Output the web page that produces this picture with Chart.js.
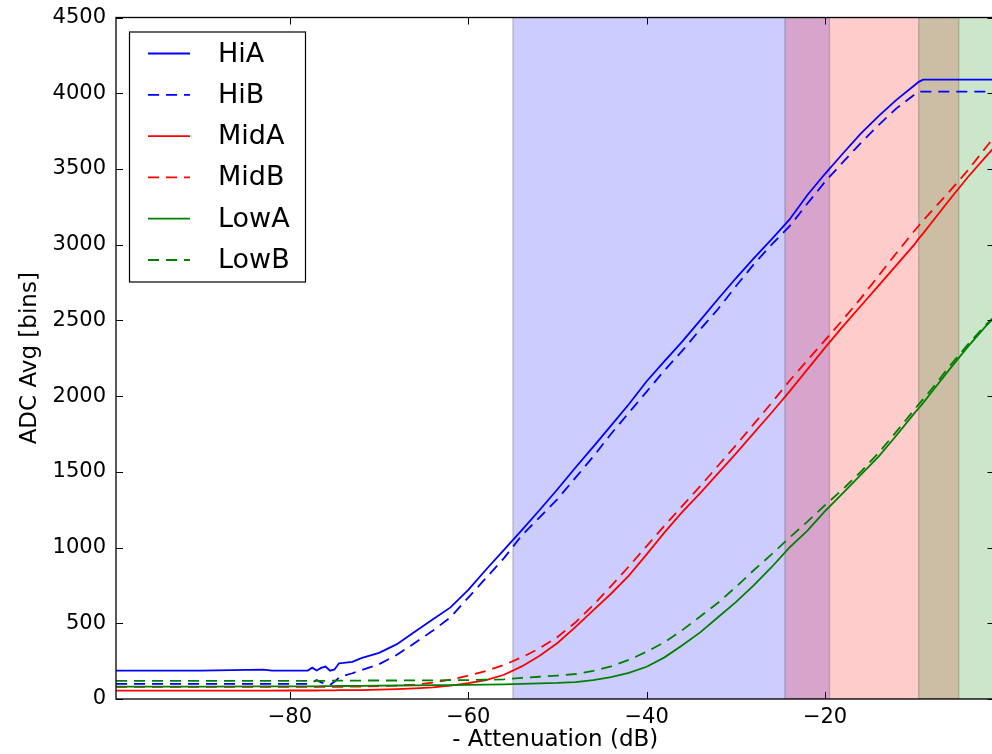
<!DOCTYPE html>
<html>
<head>
<meta charset="utf-8">
<script src="https://cdn.jsdelivr.net/npm/chart.js@4/dist/chart.umd.min.js"></script>
<style>
  html, body { margin: 0; padding: 0; background: #fff; overflow: hidden; }
  #wrap { width: 1000px; height: 754px; position: relative; }
</style>
</head>
<body>
<div id="wrap"><canvas id="adcChart"></canvas></div>
<script>
// Attenuation sweep (dB) and ADC averages per channel
const attenuation = [-99.5, -90, -83, -82, -80, -78, -77.5, -77, -76.5, -76, -75.5, -75, -74.5, -74, -73, -72,
  -70, -68, -66, -64, -62, -60, -58, -56, -54, -52, -50, -48, -46, -44, -42, -40, -38, -36, -34, -32, -30,
  -28, -26, -24, -22, -20, -18, -16, -14, -12, -10, -9.5, -9, -8, -6, -4, -2, -1];

const hiA = [187, 187, 194, 187, 187, 188, 207, 188, 205, 214, 187, 195, 236, 238, 245, 270,
  305, 362, 444, 525, 605, 720, 855, 985, 1115, 1248, 1385, 1527, 1665, 1805, 1946, 2098, 2231, 2362, 2500, 2641, 2778,
  2909, 3035, 3165, 3326, 3468, 3602, 3733, 3849, 3956, 4051, 4075, 4090, 4090, 4090, 4090, 4090, 4090];
const hiB = [100, 100, 100, 100, 100, 100, 108, 125, 110, 98, 92, 115, 140, 153, 170, 190,
  230, 292, 370, 450, 540, 670, 800, 930, 1080, 1200, 1320, 1460, 1600, 1750, 1890, 2030, 2170, 2300, 2440, 2575, 2725,
  2870, 3000, 3120, 3270, 3415, 3545, 3670, 3790, 3900, 3990, 4010, 4010, 4010, 4010, 4010, 4010, 4010];
const midA = [55, 55, 55, 55, 56, 56, 56, 56, 57, 57, 57, 57, 58, 58, 58, 59,
  62, 65, 70, 77, 88, 105, 125, 160, 215, 285, 370, 475, 585, 695, 815, 955, 1100, 1235, 1360, 1490, 1620,
  1755, 1890, 2030, 2175, 2320, 2460, 2595, 2730, 2865, 3000, 3040, 3075, 3150, 3300, 3445, 3580, 3645];
const midB = [80, 80, 80, 80, 80, 80, 80, 80, 80, 80, 81, 81, 81, 81, 82, 82,
  85, 88, 95, 108, 128, 155, 185, 225, 275, 335, 410, 505, 620, 745, 875, 1010, 1145, 1275, 1405, 1540, 1675,
  1815, 1955, 2100, 2235, 2370, 2505, 2645, 2795, 2945, 3090, 3125, 3160, 3225, 3355, 3490, 3640, 3712];
const lowA = [82, 82, 83, 83, 84, 84, 84, 84, 85, 85, 85, 85, 86, 86, 86, 87,
  88, 89, 90, 91, 92, 93, 95, 97, 100, 103, 106, 112, 125, 145, 172, 213, 275, 355, 440, 540, 640,
  750, 870, 1000, 1110, 1240, 1360, 1480, 1600, 1740, 1886, 1920, 1955, 2030, 2180, 2325, 2460, 2520];
const lowB = [120, 120, 120, 120, 120, 120, 120, 120, 120, 120, 121, 121, 121, 121, 121, 122,
  122, 122, 123, 123, 124, 125, 127, 130, 140, 147, 155, 165, 185, 215, 258, 312, 375, 455, 545, 635, 740,
  850, 955, 1065, 1170, 1280, 1385, 1500, 1625, 1765, 1910, 1945, 1980, 2050, 2200, 2340, 2470, 2525];

const seriesNames = ['HiA', 'HiB', 'MidA', 'MidB', 'LowA', 'LowB'];
const xTickValues = [-80, -60, -40, -20];
const yTickValues = [0, 500, 1000, 1500, 2000, 2500, 3000, 3500, 4000, 4500];
// shaded attenuation bands [from, to] in dB
const bands = [[-55, -19.5], [-24.5, -5], [-9.5, 0]];

const FONT = 'DejaVu Sans';
const BLUE = '#0000ff', RED = '#ff0000', GREEN = '#008000';
const bandFill = ['rgba(0,0,255,0.2)', 'rgba(255,0,0,0.2)', 'rgba(0,128,0,0.2)'];
const DASH = [11, 7];

const values = [hiA, hiB, midA, midB, lowA, lowB];
const colours = [BLUE, BLUE, RED, RED, GREEN, GREEN];

const datasets = seriesNames.map((name, i) => ({
  label: name,
  data: attenuation.map((x, k) => ({ x: x, y: values[i][k] })),
  borderColor: colours[i],
  backgroundColor: colours[i],
  borderWidth: 1.8,
  borderDash: i % 2 ? DASH : [],
  pointRadius: 0,
  tension: 0,
  fill: false,
  order: seriesNames.length - i
}));

const decor = {
  id: 'decor',
  beforeDatasetsDraw(chart) {
    const { ctx, chartArea: a, scales: { x } } = chart;
    ctx.save();
    ctx.beginPath();
    ctx.rect(a.left, a.top, a.right - a.left, a.bottom - a.top);
    ctx.clip();
    bands.forEach(([from, to], i) => {
      const x0 = x.getPixelForValue(from), x1 = x.getPixelForValue(to);
      ctx.fillStyle = bandFill[i];
      ctx.fillRect(x0, a.top, x1 - x0, a.bottom - a.top);
      ctx.strokeStyle = 'rgba(0,0,0,0.2)';
      ctx.lineWidth = 1.3;
      ctx.strokeRect(x0, a.top, x1 - x0, a.bottom - a.top);
    });
    ctx.restore();
  },
  afterDatasetsDraw(chart) {
    const { ctx, chartArea: a, scales: { x, y } } = chart;
    ctx.save();
    // inward tick marks on all four sides
    ctx.strokeStyle = '#000';
    ctx.lineWidth = 1;
    const len = 7;
    ctx.beginPath();
    xTickValues.forEach(v => {
      const px = Math.round(x.getPixelForValue(v)) + 0.5;
      ctx.moveTo(px, a.bottom); ctx.lineTo(px, a.bottom - len);
      ctx.moveTo(px, a.top); ctx.lineTo(px, a.top + len);
    });
    yTickValues.forEach(v => {
      const py = Math.round(y.getPixelForValue(v)) + 0.5;
      ctx.moveTo(a.left, py); ctx.lineTo(a.left + len, py);
      ctx.moveTo(a.right, py); ctx.lineTo(a.right - len, py);
    });
    ctx.stroke();
    // frame
    ctx.lineWidth = 1.3;
    ctx.strokeRect(a.left, a.top, a.right - a.left, a.bottom - a.top);

    // legend box, upper left
    const bx = a.left + 13.5, by = a.top + 14.5, bw = 176, bh = 250;
    ctx.fillStyle = '#fff';
    ctx.fillRect(bx, by, bw, bh);
    ctx.lineWidth = 1.2;
    ctx.strokeStyle = '#000';
    ctx.strokeRect(bx, by, bw, bh);
    ctx.font = '27px "' + FONT + '"';
    ctx.textBaseline = 'middle';
    ctx.textAlign = 'left';
    chart.data.datasets.forEach((ds, i) => {
      const ry = by + 21.5 + i * 41.3;
      ctx.strokeStyle = ds.borderColor;
      ctx.lineWidth = ds.borderWidth;
      ctx.setLineDash(ds.borderDash);
      ctx.beginPath();
      ctx.moveTo(bx + 18.5, ry);
      ctx.lineTo(bx + 60.5, ry);
      ctx.stroke();
      ctx.setLineDash([]);
      ctx.fillStyle = '#000';
      ctx.fillText(ds.label, bx + 88.5, ry + 1);
    });
    ctx.restore();
  }
};

new Chart(document.getElementById('adcChart'), {
  type: 'line',
  data: { datasets },
  options: {
    responsive: true,
    maintainAspectRatio: false,
    animation: false,
    layout: { padding: { top: 17.5, right: 5.5, left: 0, bottom: 0 } },
    plugins: { legend: { display: false }, tooltip: { enabled: false } },
    scales: {
      x: {
        type: 'linear',
        min: -99.5,
        max: -1,
        afterBuildTicks: s => { s.ticks = xTickValues.map(v => ({ value: v })); },
        afterFit: s => { s.height = 55; s.paddingLeft = 0; s.paddingRight = 0; },
        border: { display: false },
        grid: { display: false, drawTicks: false },
        ticks: {
          color: '#000',
          padding: 6,
          font: { family: FONT, size: 21 },
          callback: v => String(v).replace('-', '\u2212')
        },
        title: {
          display: true,
          text: '- Attenuation (dB)',
          color: '#000',
          font: { family: FONT, size: 23 },
          padding: { top: 0, bottom: 0 }
        }
      },
      y: {
        min: 0,
        max: 4500,
        afterBuildTicks: s => { s.ticks = yTickValues.map(v => ({ value: v })); },
        afterFit: s => { s.width = 116; s.paddingTop = 0; s.paddingBottom = 0; },
        border: { display: false },
        grid: { display: false, drawTicks: false },
        ticks: {
          color: '#000',
          padding: 10,
          font: { family: FONT, size: 21 },
          callback: v => String(v)
        },
        title: {
          display: true,
          text: 'ADC Avg [bins]',
          color: '#000',
          font: { family: FONT, size: 23 },
          padding: { top: 16, bottom: 0 }
        }
      }
    }
  },
  plugins: [decor]
});
</script>
</body>
</html>
